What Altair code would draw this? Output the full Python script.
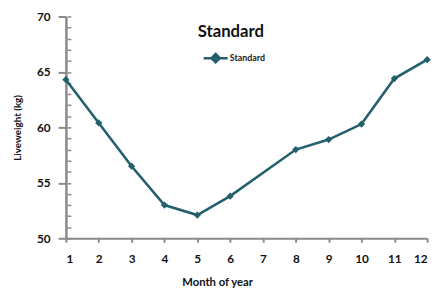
import altair as alt
import pandas as pd

months = [1, 2, 3, 4, 5, 6, 8, 9, 10, 11, 12]
liveweight = [64.3, 60.4, 56.5, 53.0, 52.1, 53.8, 58.0, 58.9, 60.3, 64.4, 66.1]
series = ["Standard"] * len(months)
x_ticks = list(range(1, 13))
y_major = [50, 55, 60, 65, 70]
y_minor = list(range(50, 71))

df = pd.DataFrame({"month": months, "lw": liveweight, "series": series})

LINE = "#235F6D"
AXIS = "#8A8A8A"
FONT = "Lato"

color = alt.Color(
    "series:N",
    scale=alt.Scale(range=[LINE]),
    legend=alt.Legend(
        title=None,
        orient="none",
        legendX=139,
        legendY=29,
        symbolType="M-1,0H1M0,-0.35L0.35,0L0,0.35L-0.35,0Z",
        symbolSize=600,
        symbolStrokeWidth=2.5,
        symbolFillColor=LINE,
        symbolStrokeColor=LINE,
        labelFont=FONT,
        labelFontSize=9,
        labelFontWeight="bold",
        labelColor="#222222",
        labelOffset=1,
    ),
)

base = alt.Chart(df)

line = base.mark_line(
    strokeWidth=2.6,
    point=alt.OverlayMarkDef(shape="diamond", filled=True, size=55, color=LINE),
).encode(
    x=alt.X(
        "month:Q",
        scale=alt.Scale(domain=[1, 12], nice=False, zero=False),
        axis=alt.Axis(
            values=x_ticks,
            grid=False,
            title="Month of year",
            titleX=154,
            titleY=39,
            titleFont=FONT,
            titleFontSize=11.5,
            titleFontWeight="bold",
            titleColor="#111111",
            labelFont=FONT,
            labelFontSize=12,
            labelFontWeight="bold",
            labelColor="#111111",
            labelPadding=12,
            tickSize=4,
            tickColor=AXIS,
            tickWidth=2,
            domainColor=AXIS,
            domainWidth=2,
        ),
    ),
    y=alt.Y(
        "lw:Q",
        scale=alt.Scale(domain=[50, 70], nice=False, zero=False),
        axis=alt.Axis(
            values=y_major,
            grid=False,
            title="Liveweight (kg)",
            orient="left",
            titleFont=FONT,
            titleFontSize=10,
            titleFontWeight="bold",
            titleColor="#111111",
            titlePadding=14,
            labelFont=FONT,
            labelFontSize=12,
            labelFontWeight="bold",
            labelColor="#111111",
            labelPadding=8,
            tickSize=8,
            tickColor=AXIS,
            tickWidth=2,
            domainColor=AXIS,
            domainWidth=2.5,
        ),
    ),
    color=color,
)

minor = base.mark_point(opacity=0).encode(
    y=alt.Y(
        "lw:Q",
        scale=alt.Scale(domain=[50, 70], nice=False, zero=False),
        axis=alt.Axis(
            values=y_minor,
            orient="left",
            offset=-5,
            labels=False,
            title=None,
            grid=False,
            domain=False,
            tickSize=4,
            tickColor=AXIS,
            tickWidth=1.5,
        ),
    ),
)

chart = (
    alt.layer(line, minor)
    .resolve_scale(y="independent")
    .properties(
        width=368,
        height=226,
        autosize=alt.AutoSizeParams(type="none"),
        padding={"left": 59, "top": 6, "right": 10, "bottom": 48},
        title=alt.TitleParams(
            text="Standard",
            font=FONT,
            fontSize=17,
            fontWeight="bold",
            color="#111111",
            anchor="middle",
            dx=-16,
            offset=-31,
        ),
    )
    .configure_view(stroke=None)
)

chart.save("out.html", embed_options={"renderer": "svg", "actions": False})
